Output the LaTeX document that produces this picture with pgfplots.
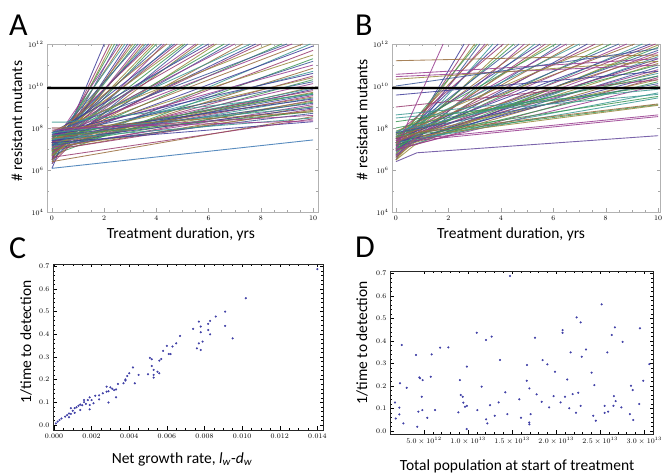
\documentclass[border=0pt]{standalone}
\usepackage{fontspec}
\setmainfont{Carlito}
\usepackage{pgfplots}
\pgfplotsset{compat=1.18}

% Mathematica default plot colours
\definecolor{m1}{rgb}{0.2472,0.24,0.6}
\definecolor{m2}{rgb}{0.6,0.24,0.4429}
\definecolor{m3}{rgb}{0.6,0.547,0.24}
\definecolor{m4}{rgb}{0.24,0.6,0.337}
\definecolor{m5}{rgb}{0.24,0.353,0.6}
\definecolor{m6}{rgb}{0.6,0.24,0.563}
\definecolor{m7}{rgb}{0.6,0.4266,0.24}
\definecolor{m8}{rgb}{0.24,0.6,0.578}
\definecolor{dot}{rgb}{0.25,0.25,0.65}
\definecolor{steel}{rgb}{0.35,0.55,0.75}

\pgfplotsset{
  panel/.style={
    scale only axis,
    axis line style={gray!60},
    tick style={gray!70, line width=0.4pt},
    major tick length=3.5pt, minor tick length=2pt,
    tick label style={font=\fontsize{7.3}{8}\selectfont},
    label style={font=\fontsize{15.5}{17}\selectfont},
  },
  mmacycle/.style={
    cycle list={
      {m1,line width=0.85pt,opacity=0.85},{m2,line width=0.85pt,opacity=0.85},
      {m3,line width=0.85pt,opacity=0.85},{m4,line width=0.85pt,opacity=0.85},
      {m5,line width=0.85pt,opacity=0.85},{m6,line width=0.85pt,opacity=0.85},
      {m7,line width=0.85pt,opacity=0.85},{m8,line width=0.85pt,opacity=0.85}},
  },
  ln/.style={line width=0.85pt, opacity=0.85},
}

\pgfplotstableread{
x y
0.0140 0.687
0.0102 0.559
0.0091 0.500
0.0086 0.478
0.0083 0.459
0.0082 0.446
0.0082 0.419
0.0083 0.400
0.0077 0.456
0.0078 0.434
0.0078 0.409
0.0079 0.368
0.0077 0.360
0.0074 0.424
0.0076 0.338
0.0078 0.331
0.0091 0.437
0.0095 0.382
0.0067 0.393
0.0065 0.360
0.0063 0.346
0.0061 0.313
0.0060 0.349
0.0058 0.327
0.0062 0.313
0.0057 0.291
0.0056 0.284
0.0051 0.296
0.0052 0.290
0.0052 0.260
0.0053 0.243
0.0053 0.221
0.0053 0.209
0.0055 0.235
0.0056 0.228
0.0050 0.224
0.0045 0.221
0.0042 0.254
0.0043 0.184
0.0040 0.228
0.0039 0.216
0.0038 0.201
0.0038 0.196
0.0037 0.184
0.0034 0.181
0.0033 0.157
0.0032 0.154
0.0031 0.160
0.0030 0.166
0.0028 0.169
0.0029 0.149
0.0028 0.147
0.0033 0.122
0.0029 0.099
0.0026 0.140
0.0024 0.131
0.0022 0.129
0.0024 0.113
0.0019 0.122
0.0020 0.110
0.0018 0.110
0.0017 0.093
0.0016 0.110
0.0016 0.101
0.0015 0.087
0.0019 0.088
0.0019 0.069
0.0021 0.096
0.0014 0.090
0.0013 0.085
0.0011 0.074
0.0009 0.074
0.0010 0.063
0.0011 0.054
0.0014 0.066
0.0008 0.051
0.0009 0.049
0.0007 0.044
0.0008 0.034
0.0006 0.037
0.0004 0.029
0.0003 0.022
0.0002 0.015
0.0001 0.007
0.0012 0.078
}\growthtable

\pgfplotstableread{
x y
1.71e12 0.127
1.79e12 0.056
2.20e12 0.104
2.20e12 0.074
2.28e12 0.212
2.47e12 0.382
2.66e12 0.034
3.03e12 0.192
4.09e12 0.337
4.24e12 0.019
4.36e12 0.086
4.47e12 0.238
4.55e12 0.234
4.74e12 0.152
4.81e12 0.093
4.85e12 0.226
5.38e12 0.059
5.76e12 0.241
5.87e12 0.340
6.25e12 0.093
6.82e12 0.370
7.76e12 0.371
8.90e12 0.083
9.08e12 0.226
9.16e12 0.160
9.39e12 0.152
9.46e12 0.126
9.65e12 0.108
9.86e12 0.286
9.86e12 0.112
9.84e12 0.009
10.98e12 0.436
11.05e12 0.093
11.54e12 0.197
12.04e12 0.404
12.04e12 0.052
12.19e12 0.034
12.49e12 0.115
12.68e12 0.419
13.02e12 0.068
13.47e12 0.127
13.62e12 0.315
14.23e12 0.172
14.46e12 0.075
14.76e12 0.688
15.82e12 0.141
16.00e12 0.059
16.66e12 0.223
16.70e12 0.293
16.95e12 0.038
16.96e12 0.189
16.96e12 0.030
17.10e12 0.075
17.59e12 0.414
17.78e12 0.163
18.35e12 0.130
18.46e12 0.315
19.00e12 0.296
19.20e12 0.105
19.70e12 0.155
19.87e12 0.263
20.50e12 0.127
20.73e12 0.448
20.73e12 0.436
21.00e12 0.152
21.26e12 0.229
21.49e12 0.101
21.64e12 0.349
21.87e12 0.164
22.25e12 0.081
22.32e12 0.504
22.50e12 0.170
22.78e12 0.482
22.78e12 0.112
22.90e12 0.330
23.38e12 0.362
24.02e12 0.259
24.20e12 0.068
24.33e12 0.204
24.50e12 0.046
25.16e12 0.562
25.50e12 0.112
25.50e12 0.081
25.80e12 0.349
25.90e12 0.086
26.30e12 0.426
26.50e12 0.112
26.55e12 0.155
26.67e12 0.460
26.75e12 0.133
27.54e12 0.396
27.40e12 0.105
28.37e12 0.075
28.49e12 0.201
28.68e12 0.182
28.75e12 0.049
29.43e12 0.120
29.50e12 0.456
29.89e12 0.223
30.57e12 0.297
}\poptable

\begin{document}
\begin{tikzpicture}
% ---------------- A ----------------
\begin{axis}[panel, mmacycle, ymode=log, ymin=1e4, ymax=1e12,
  xtick={0,2,...,10}, minor x tick num=3,
  ytick={1e4,1e6,1e8,1e10,1e12}, minor ytick={1e5,1e7,1e9,1e11},
  xlabel={Treatment duration, yrs}, ylabel={\# resistant mutants},
  at={(47pt,261pt)}, anchor=south west,
  width=271pt, height=168pt, xmin=-0.19, xmax=10.19,
  xlabel style={at={(axis description cs:0.494,-0.131)}, anchor=center},
  ylabel style={at={(axis description cs:-0.111,0.54)}, anchor=center}]
% lines leaving the top
\addplot coordinates {(0,1.2e6)(2.0,1e12)};
\addplot coordinates {(0,3e6)(2.2,1e12)};
\addplot coordinates {(0,2.5e6)(2.3,1e12)};
\addplot coordinates {(0,5e6)(2.4,1e12)};
\addplot coordinates {(0,2e6)(2.5,1e12)};
\addplot coordinates {(0,1.6e7)(2.6,1e12)};
\addplot coordinates {(0,8e6)(2.7,1e12)};
\addplot coordinates {(0,1.5e7)(2.8,1e12)};
\addplot coordinates {(0,3.5e6)(2.9,1e12)};
\addplot coordinates {(0,4e6)(3.0,1e12)};
\addplot coordinates {(0,1e7)(3.1,1e12)};
\addplot coordinates {(0,9e6)(3.2,1e12)};
\addplot coordinates {(0,2.5e7)(3.3,1e12)};
\addplot coordinates {(0,5e6)(3.4,1e12)};
\addplot coordinates {(0,6e6)(3.5,1e12)};
\addplot coordinates {(0,1.2e7)(3.6,1e12)};
\addplot coordinates {(0,2e7)(3.7,1e12)};
\addplot coordinates {(0,3e7)(3.8,1e12)};
\addplot coordinates {(0,1e7)(3.9,1e12)};
\addplot coordinates {(0,7e6)(4.0,1e12)};
\addplot coordinates {(0,2e7)(4.2,1e12)};
\addplot coordinates {(0,4.5e6)(4.3,1e12)};
\addplot coordinates {(0,4e7)(4.4,1e12)};
\addplot coordinates {(0,9e6)(4.6,1e12)};
\addplot coordinates {(0,3e7)(4.7,1e12)};
\addplot coordinates {(0,1.8e7)(4.8,1e12)};
\addplot coordinates {(0,3e7)(5.0,1e12)};
\addplot coordinates {(0,1.3e7)(5.1,1e12)};
\addplot coordinates {(0,5e6)(5.2,1e12)};
\addplot coordinates {(0,1.4e7)(5.5,1e12)};
\addplot coordinates {(0,7e6)(5.6,1e12)};
\addplot coordinates {(0,2.5e7)(5.8,1e12)};
\addplot coordinates {(0,6e7)(6.0,1e12)};
\addplot coordinates {(0,4e7)(6.2,1e12)};
\addplot coordinates {(0,8e6)(6.3,1e12)};
\addplot coordinates {(0,2e7)(6.6,1e12)};
\addplot coordinates {(0,1.5e7)(6.8,1e12)};
\addplot coordinates {(0,3.5e7)(7.0,1e12)};
\addplot coordinates {(0,1.1e7)(7.3,1e12)};
\addplot coordinates {(0,5e7)(7.6,1e12)};
\addplot coordinates {(0,2e7)(7.8,1e12)};
\addplot coordinates {(0,2.2e7)(8.0,1e12)};
\addplot coordinates {(0,7e7)(8.4,1e12)};
\addplot coordinates {(0,1.6e7)(8.8,1e12)};
\addplot coordinates {(0,6e7)(9.0,1e12)};
\addplot coordinates {(0,4e7)(9.2,1e12)};
\addplot coordinates {(0,2.8e7)(9.6,1e12)};
\addplot coordinates {(0,6e6)(9.9,1e12)};
% lines ending between 1e10 and 1e12
\addplot coordinates {(0,2e7)(10,8e11)};
\addplot coordinates {(0,1e7)(10,5e11)};
\addplot coordinates {(0,3e7)(10,3e11)};
\addplot coordinates {(0,5e6)(10,2e11)};
\addplot coordinates {(0,1.5e7)(10,1.5e11)};
\addplot coordinates {(0,4e7)(10,1e11)};
\addplot coordinates {(0,8e6)(10,7e10)};
\addplot coordinates {(0,2.5e7)(10,5e10)};
\addplot coordinates {(0,6e7)(10,4e10)};
\addplot coordinates {(0,1.2e7)(10,3e10)};
\addplot coordinates {(0,3e7)(10,2.5e10)};
\addplot coordinates {(0,9e6)(10,2e10)};
\addplot coordinates {(0,5e7)(10,1.6e10)};
\addplot coordinates {(0,2e7)(10,1.3e10)};
% lines ending below 1e10
\addplot coordinates {(0,5e6)(0.6,2e7)(10,9e9)};
\addplot coordinates {(0,1e7)(0.5,3e7)(10,8e9)};
\addplot coordinates {(0,3e6)(0.7,2e7)(10,7e9)};
\addplot coordinates {(0,2e7)(0.5,4e7)(10,6e9)};
\addplot coordinates {(0,8e6)(0.6,3e7)(10,5e9)};
\addplot coordinates {(0,4e7)(10,4.5e9)};
\addplot coordinates {(0,1.5e7)(0.5,3.5e7)(10,4e9)};
\addplot coordinates {(0,6e6)(0.6,2.5e7)(10,3.5e9)};
\addplot coordinates {(0,3e7)(10,3e9)};
\addplot coordinates {(0,1e7)(0.5,2.5e7)(10,2.7e9)};
\addplot coordinates {(0,5e7)(10,2.4e9)};
\addplot coordinates {(0,2e6)(0.7,1.5e7)(10,2.1e9)};
\addplot coordinates {(0,2e7)(10,1.9e9)};
\addplot coordinates {(0,7e6)(0.5,2e7)(10,1.7e9)};
\addplot coordinates {(0,4e7)(10,1.5e9)};
\addplot coordinates {(0,1.2e7)(10,1.3e9)};
\addplot coordinates {(0,3e6)(0.6,1.2e7)(10,1.1e9)};
\addplot coordinates {(0,6e7)(10,1e9)};
\addplot coordinates {(0,2.5e7)(10,9e8)};
\addplot coordinates {(0,9e6)(10,8e8)};
\addplot coordinates {(0,5e6)(0.5,1.5e7)(10,7e8)};
\addplot coordinates {(0,4e7)(10,6e8)};
\addplot coordinates {(0,1.5e7)(10,5e8)};
\addplot coordinates {(0,8e7)(10,4e8)};
\addplot coordinates {(0,2.5e6)(10,3.5e8)};
\addplot coordinates {(0,3e7)(10,3e8)};
\addplot coordinates {(0,2e7)(10,2e8)};
\addplot coordinates {(0,4e6)(10,2.7e8)};
\addplot[m6, ln] coordinates {(0,1e8)(0.5,1e8)(10,2.2e8)};
\addplot[m7, ln] coordinates {(0,1e8)(0.5,1e8)(10,6e8)};
\addplot[m8, ln] coordinates {(0,1.9e8)(0.5,1.9e8)(10,4e9)};
\addplot[steel, line width=0.9pt] coordinates {(0,1.2e6)(10,2.7e7)};
% detection threshold
\addplot[gray, opacity=0.35, line width=4.5pt] coordinates {(-1,8e9)(11,8e9)};
\addplot[black, line width=1.8pt] coordinates {(-1,8e9)(11,8e9)};
\end{axis}

% ---------------- B ----------------
\begin{axis}[panel, mmacycle, ymode=log, ymin=1e4, ymax=1e12,
  xtick={0,2,...,10}, minor x tick num=3,
  ytick={1e4,1e6,1e8,1e10,1e12}, minor ytick={1e5,1e7,1e9,1e11},
  xlabel={Treatment duration, yrs}, ylabel={\# resistant mutants},
  at={(392pt,261pt)}, anchor=south west,
  width=268pt, height=168pt, xmin=-0.15, xmax=10.07,
  xlabel style={at={(axis description cs:0.444,-0.131)}, anchor=center},
  ylabel style={at={(axis description cs:-0.112,0.55)}, anchor=center}]
% lines leaving the top
\addplot coordinates {(0,3e6)(2.6,1e12)};
\addplot coordinates {(0,5e6)(2.8,1e12)};
\addplot coordinates {(0,8e6)(3.0,1e12)};
\addplot coordinates {(0,2e7)(3.1,1e12)};
\addplot coordinates {(0,4e6)(3.2,1e12)};
\addplot coordinates {(0,1.2e7)(3.4,1e12)};
\addplot coordinates {(0,3e7)(3.5,1e12)};
\addplot coordinates {(0,6e6)(3.7,1e12)};
\addplot coordinates {(0,2e7)(3.9,1e12)};
\addplot coordinates {(0,5e7)(4.1,1e12)};
\addplot coordinates {(0,9e6)(4.3,1e12)};
\addplot coordinates {(0,1.5e7)(4.5,1e12)};
\addplot coordinates {(0,3e7)(4.7,1e12)};
\addplot coordinates {(0,4e6)(4.9,1e12)};
\addplot coordinates {(0,2.5e7)(5.1,1e12)};
\addplot coordinates {(0,7e6)(5.3,1e12)};
\addplot coordinates {(0,4e7)(5.5,1e12)};
\addplot coordinates {(0,1.2e7)(5.7,1e12)};
\addplot coordinates {(0,2e7)(5.9,1e12)};
\addplot coordinates {(0,6e7)(6.1,1e12)};
\addplot coordinates {(0,8e6)(6.3,1e12)};
\addplot coordinates {(0,3e7)(6.5,1e12)};
\addplot coordinates {(0,1.6e7)(6.8,1e12)};
\addplot coordinates {(0,5e7)(7.0,1e12)};
\addplot coordinates {(0,1e7)(7.3,1e12)};
\addplot coordinates {(0,2.5e7)(7.6,1e12)};
\addplot coordinates {(0,7e7)(7.9,1e12)};
\addplot coordinates {(0,1.4e7)(8.2,1e12)};
\addplot coordinates {(0,3.5e7)(8.5,1e12)};
\addplot coordinates {(0,2e7)(8.8,1e12)};
\addplot coordinates {(0,5e7)(9.1,1e12)};
\addplot coordinates {(0,9e6)(9.4,1e12)};
\addplot coordinates {(0,3e7)(9.7,1e12)};
\addplot coordinates {(0,1.8e7)(9.9,1e12)};
% lines ending between 1e10 and 1e12
\addplot coordinates {(0,3e6)(0.7,1.5e7)(10,9e11)};
\addplot coordinates {(0,1e7)(10,7e11)};
\addplot coordinates {(0,2e7)(10,5e11)};
\addplot coordinates {(0,5e6)(0.6,2e7)(10,4e11)};
\addplot coordinates {(0,4e7)(10,3e11)};
\addplot coordinates {(0,8e6)(10,2.5e11)};
\addplot coordinates {(0,1.5e7)(10,2e11)};
\addplot coordinates {(0,3e7)(10,1.5e11)};
\addplot coordinates {(0,6e6)(0.6,2.5e7)(10,1.2e11)};
\addplot coordinates {(0,5e7)(10,1e11)};
\addplot coordinates {(0,1.2e7)(10,8e10)};
\addplot coordinates {(0,2.5e7)(10,6e10)};
\addplot coordinates {(0,4e6)(0.7,2e7)(10,5e10)};
\addplot coordinates {(0,7e7)(10,4e10)};
\addplot coordinates {(0,2e7)(10,3e10)};
\addplot coordinates {(0,9e6)(10,2.5e10)};
\addplot coordinates {(0,3.5e7)(10,2e10)};
\addplot coordinates {(0,1.5e7)(10,1.6e10)};
\addplot coordinates {(0,6e7)(10,1.3e10)};
\addplot coordinates {(0,1e7)(10,1.1e10)};
% slowly growing lines starting high
\addplot[m7, ln] coordinates {(0,1.6e11)(10,3e11)};
\addplot[m6, ln] coordinates {(0,3.6e10)(10,2e11)};
\addplot[m6, ln] coordinates {(0,2.8e10)(10,1e11)};
\addplot[m3, ln] coordinates {(0,2.1e10)(10,1.5e11)};
\addplot[m5, ln] coordinates {(0,1e10)(10,6e11)};
\addplot[m1, ln] coordinates {(0,3.7e9)(10,5e10)};
\addplot[m2, ln] coordinates {(0,1e9)(10,2e10)};
\addplot[m8, ln] coordinates {(0,4.2e8)(10,7e9)};
\addplot[m8, ln] coordinates {(0,3e8)(10,4e9)};
\addplot[m4, ln] coordinates {(0,2e8)(10,1e10)};
\addplot[m4, ln] coordinates {(0,1e8)(10,3e10)};
% lines ending below 1e10
\addplot[m8, ln] coordinates {(0,5e6)(0.8,3e7)(10,4.7e9)};
\addplot[m8, ln] coordinates {(0,2e7)(10,2.7e9)};
\addplot[m4, ln] coordinates {(0,4e7)(10,3.2e9)};
\addplot[m4, ln] coordinates {(0,1e7)(0.8,5e7)(10,1.3e9)};
\addplot[m3, ln] coordinates {(0,3e6)(0.8,4e7)(10,1.2e9)};
\addplot[m7, ln] coordinates {(0,2e7)(0.8,6e7)(10,1.4e9)};
\addplot[m6, ln] coordinates {(0,8e6)(0.7,3e7)(10,4.2e8)};
\addplot[m6, ln] coordinates {(0,5e6)(0.7,2.5e7)(10,3.5e8)};
\addplot[m6, ln] coordinates {(0,1e7)(1.8,1e12)};
\addplot[m1!70!m6!80!white, line width=0.9pt] coordinates {(0,2.5e6)(0.8,6.6e6)(10,4.3e7)};
% detection threshold
\addplot[gray, opacity=0.35, line width=4.5pt] coordinates {(-1,8e9)(11,8e9)};
\addplot[black, line width=1.8pt] coordinates {(-1,8e9)(11,8e9)};
\end{axis}

% ---------------- C ----------------
\begin{axis}[panel, at={(53pt,43pt)}, anchor=south west,
  width=270pt, height=166pt, xmin=-0.00005, xmax=0.0143,
  ymin=-0.022, ymax=0.71,
  ytick={0,0.1,...,0.7}, minor y tick num=4,
  yticklabel style={/pgf/number format/.cd, fixed, fixed zerofill, precision=1},
  ylabel={1/time to detection},
  axis line style={black!85}, tick style={black, line width=0.4pt},
  xtick={0,0.002,...,0.014}, minor x tick num=3, scaled x ticks=false,
  xticklabel style={/pgf/number format/.cd, fixed, fixed zerofill, precision=3},
  xlabel={Net growth rate, \textit{l}\textsubscript{\textit{w}}-\textit{d}\textsubscript{\textit{w}}},
  xlabel style={at={(axis description cs:0.478,-0.175)}, anchor=center},
  ylabel style={at={(axis description cs:-0.1,0.53)}, anchor=center}]
\addplot[only marks, mark=*, mark size=0.85pt, dot] table[x=x, y=y] {\growthtable};
\end{axis}

% ---------------- D ----------------
\begin{axis}[panel, at={(390pt,39pt)}, anchor=south west,
  width=263pt, height=163pt, xmin=1.14e12, xmax=3.099e13,
  ymin=-0.013, ymax=0.71,
  ytick={0,0.1,...,0.7}, minor y tick num=4,
  yticklabel style={/pgf/number format/.cd, fixed, fixed zerofill, precision=1},
  ylabel={1/time to detection},
  axis line style={black!85}, tick style={black, line width=0.4pt},
  xtick={5e12,1e13,1.5e13,2e13,2.5e13,3e13}, minor x tick num=4, scaled x ticks=false,
  xticklabels={$5.0\times10^{12}$,$1.0\times10^{13}$,$1.5\times10^{13}$,$2.0\times10^{13}$,$2.5\times10^{13}$,$3.0\times10^{13}$},
  xlabel={Total population at start of treatment},
  xlabel style={at={(axis description cs:0.483,-0.196)}, anchor=center},
  ylabel style={at={(axis description cs:-0.106,0.56)}, anchor=center}]
\addplot[only marks, mark=*, mark size=0.85pt, dot] table[x=x, y=y] {\poptable};
\end{axis}

% panel letters
\node[anchor=base west, inner sep=0pt, font=\fontsize{32}{34}\selectfont] at (9pt,437pt) {A};
\node[anchor=base west, inner sep=0pt, font=\fontsize{32}{34}\selectfont] at (355pt,437pt) {B};
\node[anchor=base west, inner sep=0pt, font=\fontsize{32}{34}\selectfont] at (9pt,214pt) {C};
\node[anchor=base west, inner sep=0pt, font=\fontsize{32}{34}\selectfont] at (355pt,215pt) {D};

\pgfresetboundingbox
\useasboundingbox (0pt,0pt) rectangle (666pt,473pt);
\end{tikzpicture}
\end{document}
